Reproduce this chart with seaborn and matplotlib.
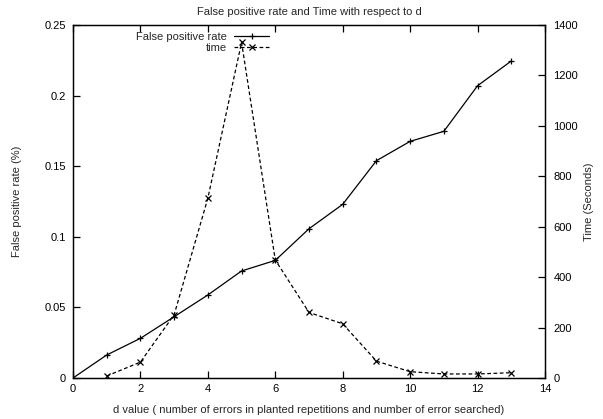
import matplotlib
matplotlib.use("Agg")
import matplotlib.pyplot as plt
import seaborn as sns
import pandas as pd

d_fpr = [0, 1, 2, 3, 4, 5, 6, 7, 8, 9, 10, 11, 12, 13]
fpr = [0.0, 0.0163, 0.0281, 0.0434, 0.0588, 0.0758, 0.0833, 0.1057, 0.123, 0.1539, 0.1676, 0.1747, 0.207, 0.2245]
d_time = [1, 2, 3, 4, 5, 6, 7, 8, 9, 10, 11, 12, 13]
time_s = [8, 63, 251, 713, 1331, 468, 260, 215, 67, 25, 16, 16, 21]

sns.set_theme(style="ticks")
plt.rcParams['font.family'] = ['Liberation Sans', 'DejaVu Sans']
plt.rcParams['font.size'] = 8

fig = plt.figure(figsize=(6.03, 4.19), dpi=100)
ax = fig.add_axes([73/603, 1-378/419, (545-73)/603, (378-25)/419])
ax2 = ax.twinx()

df1 = pd.DataFrame({"d": d_fpr, "v": fpr})
df2 = pd.DataFrame({"d": d_time, "v": time_s})
sns.lineplot(data=df1, x="d", y="v", ax=ax, color="black", lw=0.9,
             marker="+", markersize=5, markeredgewidth=0.9, markeredgecolor="black",
             label="False positive rate", legend=False)
sns.lineplot(data=df2, x="d", y="v", ax=ax2, color="black", lw=0.9, linestyle=(0, (3, 2)),
             marker="x", markersize=3.8, markeredgewidth=0.9, markeredgecolor="black",
             label="time", legend=False)

ax.set_xlim(0, 14)
ax.set_ylim(0, 0.25)
ax2.set_ylim(0, 1400)
ax.set_xticks(range(0, 15, 2))
ax.set_yticks([0, 0.05, 0.1, 0.15, 0.2, 0.25])
ax.set_yticklabels(["0", "0.05", "0.1", "0.15", "0.2", "0.25"])
ax2.set_yticks(range(0, 1401, 200))

for a in (ax, ax2):
    for s in a.spines.values():
        s.set_linewidth(0.9)
        s.set_color("black")
ax.tick_params(axis="x", direction="in", top=True, length=5, width=0.9, labelsize=8, pad=4, colors="black")
ax.tick_params(axis="y", direction="in", length=5, width=0.9, labelsize=8, pad=5, colors="black")
ax2.tick_params(axis="y", direction="in", length=5, width=0.9, labelsize=8, pad=6, colors="black")

ax.set_xlabel("d value ( number of errors in planted repetitions and number of error searched)", fontsize=8, labelpad=8)
ax.set_ylabel("False positive rate (%)", fontsize=8, labelpad=16)
ax2.set_ylabel("Time (Seconds)", fontsize=8, labelpad=4)
ax.set_title("False positive rate and Time with respect to d", fontsize=8, pad=7)

h1, lab1 = ax.get_legend_handles_labels()
h2, lab2 = ax2.get_legend_handles_labels()
leg = ax.legend(h1 + h2, lab1 + lab2, loc="upper left", bbox_to_anchor=(0.12, 1.0),
                frameon=False, markerfirst=False, fontsize=8, handlelength=3.2,
                handletextpad=0.6, labelspacing=0.1, borderaxespad=0.2)
for t in leg.get_texts():
    t.set_ha("right")
leg._legend_box.align = "right"

fig.savefig("out.png", dpi=100)
